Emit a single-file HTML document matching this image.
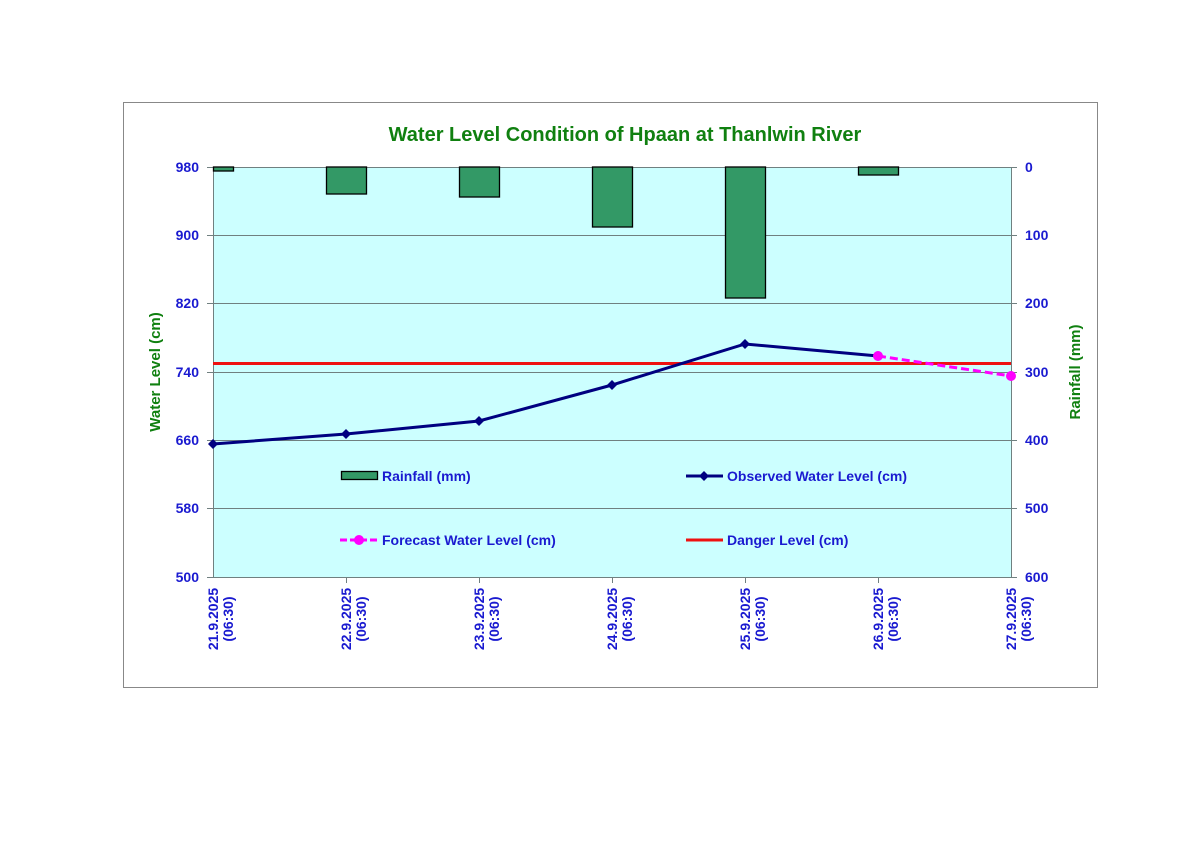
<!DOCTYPE html>
<html><head><meta charset="utf-8"><style>body{margin:0;background:#fff}</style></head>
<body>
<svg width="1200" height="849" xmlns="http://www.w3.org/2000/svg" font-family="Liberation Sans, Arial, sans-serif" font-weight="bold">
<rect x="123.5" y="102.5" width="974" height="585" fill="#fff" stroke="#888" stroke-width="1"/>
<text x="625" y="141" text-anchor="middle" font-size="20" fill="#108010">Water Level Condition of Hpaan at Thanlwin River</text>
<rect x="213" y="167" width="798" height="410" fill="#ccffff"/>
<g stroke="#708080" stroke-width="1">
<line x1="213" y1="167.5" x2="1011" y2="167.5"/>
<line x1="213" y1="235.5" x2="1011" y2="235.5"/>
<line x1="213" y1="303.5" x2="1011" y2="303.5"/>
<line x1="213" y1="372.5" x2="1011" y2="372.5"/>
<line x1="213" y1="440.5" x2="1011" y2="440.5"/>
<line x1="213" y1="508.5" x2="1011" y2="508.5"/>
<line x1="213.5" y1="167" x2="213.5" y2="577"/>
<line x1="1011.5" y1="167" x2="1011.5" y2="577"/>
<line x1="207" y1="577.5" x2="1017" y2="577.5"/>
<line x1="207" y1="167.5" x2="213" y2="167.5"/><line x1="207" y1="235.5" x2="213" y2="235.5"/><line x1="207" y1="303.5" x2="213" y2="303.5"/><line x1="207" y1="372.5" x2="213" y2="372.5"/><line x1="207" y1="440.5" x2="213" y2="440.5"/><line x1="207" y1="508.5" x2="213" y2="508.5"/>
<line x1="1011" y1="167.5" x2="1017" y2="167.5"/><line x1="1011" y1="235.5" x2="1017" y2="235.5"/><line x1="1011" y1="303.5" x2="1017" y2="303.5"/><line x1="1011" y1="372.5" x2="1017" y2="372.5"/><line x1="1011" y1="440.5" x2="1017" y2="440.5"/><line x1="1011" y1="508.5" x2="1017" y2="508.5"/>
<line x1="346.5" y1="577" x2="346.5" y2="583"/><line x1="479.5" y1="577" x2="479.5" y2="583"/><line x1="612.5" y1="577" x2="612.5" y2="583"/><line x1="745.5" y1="577" x2="745.5" y2="583"/><line x1="878.5" y1="577" x2="878.5" y2="583"/>
</g>
<g fill="#339966" stroke="#000" stroke-width="1.3">
<rect x="213.5" y="167" width="20" height="4"/>
<rect x="326.5" y="167" width="40" height="27"/>
<rect x="459.5" y="167" width="40" height="30"/>
<rect x="592.5" y="167" width="40" height="60"/>
<rect x="725.5" y="167" width="40" height="131"/>
<rect x="858.5" y="167" width="40" height="8"/>
</g>
<line x1="213" y1="363.5" x2="1011" y2="363.5" stroke="#ee1111" stroke-width="3"/>
<polyline points="213,444 346,434 479,421 612,385 745,344 878,356" fill="none" stroke="#000080" stroke-width="3"/>
<g fill="#000080">
<path d="M213,439 l5,5 l-5,5 l-5,-5z"/><path d="M346,429 l5,5 l-5,5 l-5,-5z"/><path d="M479,416 l5,5 l-5,5 l-5,-5z"/><path d="M612,380 l5,5 l-5,5 l-5,-5z"/><path d="M745,339 l5,5 l-5,5 l-5,-5z"/><path d="M878,351 l5,5 l-5,5 l-5,-5z"/>
</g>
<line x1="878" y1="356" x2="1011" y2="376" stroke="#ff00ff" stroke-width="3" stroke-dasharray="8,4"/>
<circle cx="878" cy="356" r="5" fill="#ff00ff"/><circle cx="1011" cy="376" r="5" fill="#ff00ff"/>
<g font-size="14" fill="#1a1ad0">
<g text-anchor="end"><text x="199" y="172">980</text><text x="199" y="240">900</text><text x="199" y="308">820</text><text x="199" y="377">740</text><text x="199" y="445">660</text><text x="199" y="513">580</text><text x="199" y="582">500</text></g>
<g><text x="1025" y="172">0</text><text x="1025" y="240">100</text><text x="1025" y="308">200</text><text x="1025" y="377">300</text><text x="1025" y="445">400</text><text x="1025" y="513">500</text><text x="1025" y="582">600</text></g>
<text x="382" y="481">Rainfall (mm)</text>
<text x="727" y="481">Observed Water Level (cm)</text>
<text x="382" y="545">Forecast Water Level (cm)</text>
<text x="727" y="545">Danger Level (cm)</text>
</g>
<g font-size="14" fill="#1a1ad0" text-anchor="middle">
<text transform="translate(218,619) rotate(-90)">21.9.2025</text><text transform="translate(233,619) rotate(-90)">(06:30)</text>
<text transform="translate(351,619) rotate(-90)">22.9.2025</text><text transform="translate(366,619) rotate(-90)">(06:30)</text>
<text transform="translate(484,619) rotate(-90)">23.9.2025</text><text transform="translate(499,619) rotate(-90)">(06:30)</text>
<text transform="translate(617,619) rotate(-90)">24.9.2025</text><text transform="translate(632,619) rotate(-90)">(06:30)</text>
<text transform="translate(750,619) rotate(-90)">25.9.2025</text><text transform="translate(765,619) rotate(-90)">(06:30)</text>
<text transform="translate(883,619) rotate(-90)">26.9.2025</text><text transform="translate(898,619) rotate(-90)">(06:30)</text>
<text transform="translate(1016,619) rotate(-90)">27.9.2025</text><text transform="translate(1031,619) rotate(-90)">(06:30)</text>
</g>
<rect x="341.5" y="471.5" width="36" height="8" fill="#339966" stroke="#000" stroke-width="1.3"/>
<line x1="686" y1="476" x2="723" y2="476" stroke="#000080" stroke-width="3"/><path d="M704,471 l5,5 l-5,5 l-5,-5z" fill="#000080"/>
<line x1="340" y1="540" x2="378" y2="540" stroke="#ff00ff" stroke-width="3" stroke-dasharray="7,3"/><circle cx="359" cy="540" r="5" fill="#ff00ff"/>
<line x1="686" y1="540" x2="723" y2="540" stroke="#ee1111" stroke-width="3"/>
<text transform="translate(160,372) rotate(-90)" text-anchor="middle" font-size="15" fill="#108010">Water Level (cm)</text>
<text transform="translate(1080,372) rotate(-90)" text-anchor="middle" font-size="15" fill="#108010">Rainfall (mm)</text>
</svg>
</body></html>
